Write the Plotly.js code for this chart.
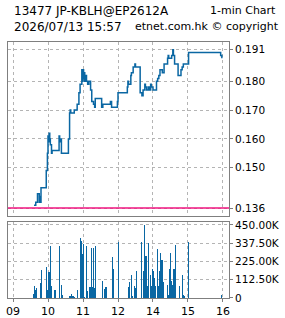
<!DOCTYPE html>
<html>
<head>
<meta charset="utf-8">
<script src="https://cdn.plot.ly/plotly-3.0.1.min.js"></script>
<style>html,body{margin:0;padding:0;background:#fff;}#chart{width:285px;height:318px;}</style>
</head>
<body>
<div id="chart"></div>
<script>
// ---- data ----
const priceTimes = ["09:36","09:39","09:42","09:45","09:46","09:47","09:48","09:57","09:59","10:00","10:01","10:02","10:03","10:04","10:06","10:07","10:19","10:20","10:21","10:23","10:35","10:37","10:38","10:39","10:45","10:50","10:53","10:55","10:58","10:59","11:00","11:01","11:02","11:03","11:04","11:06","11:08","11:10","11:13","11:15","11:18","11:20","11:21","11:32","11:34","11:47","11:49","11:59","13:00","13:16","13:17","13:18","13:22","13:23","13:26","13:29","13:30","13:38","13:41","13:43","13:46","13:47","13:49","13:52","13:54","13:56","13:57","14:00","14:06","14:08","14:10","14:12","14:16","14:19","14:25","14:26","14:27","14:32","14:34","14:35","14:37","14:43","14:48","14:50","14:52","15:01","15:56","15:58"];
const prices = [0.137,0.138,0.141,0.138,0.140,0.138,0.143,0.149,0.155,0.161,0.159,0.162,0.160,0.158,0.155,0.156,0.161,0.159,0.160,0.155,0.160,0.169,0.170,0.169,0.170,0.172,0.176,0.179,0.184,0.180,0.184,0.181,0.183,0.180,0.182,0.180,0.179,0.180,0.177,0.173,0.172,0.171,0.174,0.171,0.172,0.173,0.171,0.173,0.176,0.178,0.180,0.179,0.182,0.183,0.185,0.186,0.185,0.176,0.175,0.177,0.179,0.178,0.177,0.178,0.177,0.179,0.178,0.177,0.180,0.181,0.182,0.184,0.183,0.186,0.188,0.189,0.188,0.189,0.191,0.189,0.186,0.182,0.184,0.185,0.186,0.190,0.189,0.188];

const volTimes = ["09:35","09:37","09:39","09:41","09:47","09:49","09:58","10:00","10:01","10:02","10:03","10:05","10:06","10:12","10:19","10:23","10:25","10:37","10:38","10:40","10:42","10:43","10:46","10:50","10:55","10:56","10:57","10:58","10:59","11:01","11:03","11:06","11:08","11:12","11:13","11:14","11:15","11:16","11:17","11:18","11:20","11:22","11:33","11:37","11:38","11:41","11:50","11:52","13:01","13:18","13:19","13:23","13:25","13:28","13:30","13:31","13:41","13:43","13:45","13:46","13:47","13:48","13:49","13:50","13:51","13:53","13:55","13:57","13:59","14:00","14:01","14:02","14:04","14:07","14:08","14:09","14:10","14:11","14:13","14:14","14:15","14:16","14:18","14:25","14:27","14:29","14:30","14:32","14:34","14:36","14:38","14:39","14:45","14:46","14:50","14:52","14:54","15:01","15:57"];
const volumesK = [27,76,51,61,92,174,190,51,162,162,162,321,76,51,321,82,20,14,14,27,14,10,6,47,368,272,272,348,272,331,6,321,41,67,67,67,307,67,67,307,63,321,102,57,67,67,252,178,342,67,96,143,10,72,61,164,342,164,450,256,256,72,256,72,72,338,143,72,178,164,158,123,72,301,72,72,72,164,276,143,231,231,96,82,20,178,276,102,82,178,327,276,72,72,143,20,14,342,20];

const refPrice = 0.136;
const priceTicks = [0.136,0.150,0.160,0.170,0.180,0.191];
const volTicksK = [0,112.5,225,337.5,450];
const hourTicks = ["09:00","10:00","11:00","12:00","14:00","15:00","16:00"];
const hourLabels = ["09","10","11","12","14","15","16"];

// trading-session minutes (lunch break 12:00-13:00 removed)
function sess(t){
  const p = t.split(":"); let m = (+p[0])*60 + (+p[1]) - 540;
  if (m >= 240) m -= 60;
  return m;
}

const blue = "#0a67a3";
const gridCol = "#b4b4b4";
const axCol = "#7f7f7f";
const font = "DejaVu Sans";

const traces = [
  {x: volTimes.map(sess), y: volumesK.map(v=>v*1000), type:"bar", xaxis:"x", yaxis:"y",
   marker:{color:blue, line:{width:0}}, width:1.8, hoverinfo:"skip"},
  {x: priceTimes.map(sess), y: prices, type:"scatter", mode:"lines", xaxis:"x2", yaxis:"y2",
   line:{color:blue, width:1.5, shape:"hv"}, hoverinfo:"skip"}
];

const common = {showline:true, linecolor:axCol, linewidth:1, mirror:true, showgrid:true,
  gridcolor:gridCol, gridwidth:1, griddash:"3px,3px", zeroline:false,
  tickfont:{family:font, size:10.5, color:"#000"}};

const layout = {
  width:285, height:318,
  margin:{l:8, r:56, t:42, b:20, pad:0},
  paper_bgcolor:"#fff", plot_bgcolor:"#fff", showlegend:false, bargap:0,
  font:{family:font, color:"#000"},
  xaxis: Object.assign({}, common, {anchor:"y", domain:[0,1], range:[-8.57,370.3],
    tickmode:"array", tickvals:hourTicks.map(sess), ticktext:hourLabels,
    ticks:"outside", ticklen:3, tickcolor:axCol, tickfont:{family:font,size:11,color:"#000"}}),
  xaxis2: Object.assign({}, common, {anchor:"y2", matches:"x", domain:[0,1],
    tickmode:"array", tickvals:hourTicks.map(sess), showticklabels:false, ticks:""}),
  yaxis: Object.assign({}, common, {anchor:"x", domain:[0,0.297], side:"right", range:[0,468000],
    tickmode:"array", tickvals:volTicksK.map(v=>v*1000),
    ticktext:volTicksK.map(v=> v===0 ? "0" : v.toFixed(2)+"K"),
    ticks:"outside", ticklen:3, tickcolor:axCol}),
  yaxis2: Object.assign({}, common, {anchor:"x2", domain:[0.3203,1], side:"right", range:[0.13323,0.19365],
    tickmode:"array", tickvals:priceTicks, ticktext:priceTicks.map(v=>v.toFixed(3)),
    ticks:"outside", ticklen:3, tickcolor:axCol}),
  shapes:[{type:"line", xref:"paper", x0:0, x1:1, yref:"y2", y0:refPrice, y1:refPrice,
    line:{color:"#f0147f", width:1.5}}],
  annotations:[
    {text:"13477 JP-KBLH@EP2612A", xref:"paper", yref:"paper", x:0.018, y:1.1211, xanchor:"left", yanchor:"middle", showarrow:false, font:{family:font,size:12,color:"#000"}},
    {text:"1-min Chart", xref:"paper", yref:"paper", x:1.2217, y:1.1211, xanchor:"right", yanchor:"middle", showarrow:false, font:{family:font,size:11,color:"#000"}},
    {text:"2026/07/13 15:57", xref:"paper", yref:"paper", x:0.018, y:1.0586, xanchor:"left", yanchor:"middle", showarrow:false, font:{family:font,size:12,color:"#000"}},
    {text:"etnet.com.hk © copyright", xref:"paper", yref:"paper", x:1.2353, y:1.0586, xanchor:"right", yanchor:"middle", showarrow:false, font:{family:font,size:11,color:"#000"}}
  ]
};

Plotly.newPlot("chart", traces, layout, {staticPlot:true, displayModeBar:false});
</script>
</body>
</html>
